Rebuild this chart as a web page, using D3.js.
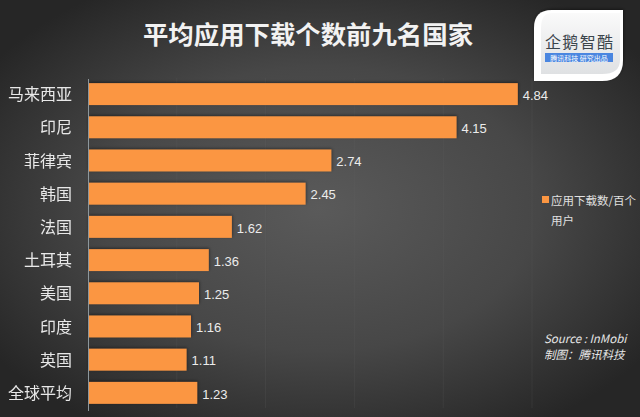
<!DOCTYPE html>
<html>
<head>
<meta charset="utf-8">
<script src="https://cdn.jsdelivr.net/npm/d3@7"></script>
<style>
html, body { margin: 0; padding: 0; background: #333; }
svg { display: block; }
text { font-family: "Noto Sans CJK SC", sans-serif; }
</style>
</head>
<body>
<div id="chart"></div>
<script>
const countries = ['马来西亚', '印尼', '菲律宾', '韩国', '法国', '土耳其', '美国', '印度', '英国', '全球平均'];
const downloads = [4.84, 4.15, 2.74, 2.45, 1.62, 1.36, 1.25, 1.16, 1.11, 1.23];
const gridTicks = [0, 1, 2, 3, 4, 5];
const titleText = '平均应用下载个数前九名国家';
const legendLines = ['应用下载数/百个', '用户'];
const sourceLines = ['Source : InMobi', '制图：腾讯科技'];

const width = 640, height = 417;

const svg = d3.select('#chart').append('svg')
	.attr('width', width)
	.attr('height', height);

const defs = svg.append('defs');
const bg = defs.append('radialGradient').attr('id', 'bg')
	.attr('cx', '50%').attr('cy', '50%').attr('r', '62%');
bg.append('stop').attr('offset', '0%').attr('stop-color', '#5a5a5a');
bg.append('stop').attr('offset', '55%').attr('stop-color', '#474747');
bg.append('stop').attr('offset', '100%').attr('stop-color', '#262626');

const logoFill = defs.append('linearGradient').attr('id', 'logoFill')
	.attr('x1', 0).attr('y1', 0).attr('x2', 0).attr('y2', 1);
logoFill.append('stop').attr('offset', '0%').attr('stop-color', '#fafafa');
logoFill.append('stop').attr('offset', '100%').attr('stop-color', '#dfe1e3');

const blur = defs.append('filter').attr('id', 'soft');
blur.append('feGaussianBlur').attr('stdDeviation', 0.35);

const shadow = defs.append('filter').attr('id', 'shadow')
	.attr('x', '-10%').attr('y', '-10%').attr('width', '125%').attr('height', '125%');
shadow.append('feDropShadow')
	.attr('dx', 0.5).attr('dy', -1).attr('stdDeviation', 1.5)
	.attr('flood-color', '#000').attr('flood-opacity', 0.45);

svg.append('rect').attr('width', width).attr('height', height).attr('fill', 'url(#bg)');

const x = d3.scaleLinear().domain([0, 5]).range([88, 532]);
const y = d3.scaleBand().domain(countries).range([77.5, 409.5]).paddingInner(0.34).paddingOuter(0.17);

// faint vertical gridlines
svg.append('g').selectAll('line').data(gridTicks.slice(1)).join('line')
	.attr('x1', d => x(d)).attr('x2', d => x(d))
	.attr('y1', 78).attr('y2', 408)
	.attr('stroke', '#6a6a6a').attr('stroke-opacity', 0.18);

// bars
svg.append('g').attr('filter', 'url(#shadow)').selectAll('rect').data(countries).join('rect')
	.attr('x', x(0))
	.attr('y', d => y(d))
	.attr('width', (d, i) => x(downloads[i]) - x(0))
	.attr('height', y.bandwidth())
	.attr('fill', '#fb9642');

// category axis
const yAxis = d3.axisLeft(y).tickSize(0).tickPadding(16);
const axisG = svg.append('g').attr('transform', `translate(${x(0)},1)`).call(yAxis);
axisG.select('.domain').attr('stroke', '#8d979c').attr('stroke-width', 1);
axisG.selectAll('text')
	.attr('fill', '#e8e8e8')
	.attr('font-size', 16)
	.attr('filter', 'url(#soft)');

// value labels
svg.append('g').selectAll('text').data(countries).join('text')
	.attr('x', (d, i) => x(downloads[i]) + 5)
	.attr('y', d => y(d) + y.bandwidth() / 2 + 1)
	.attr('dy', '0.36em')
	.attr('fill', '#ececec')
	.attr('font-size', 13)
	.style('font-family', 'Liberation Sans')
	.text((d, i) => downloads[i].toFixed(2));

// title
svg.append('text')
	.attr('x', 308).attr('y', 44)
	.attr('text-anchor', 'middle')
	.attr('fill', '#f2f2f2')
	.attr('font-size', 25.4)
	.attr('font-weight', 700)
	.text(titleText);

// legend
svg.append('rect').attr('x', 542).attr('y', 196).attr('width', 7).attr('height', 7).attr('fill', '#fb9642');
svg.append('g').selectAll('text').data(legendLines).join('text')
	.attr('x', 551)
	.attr('y', (d, i) => 204.5 + i * 20)
	.attr('fill', '#e0e0e0')
	.attr('font-size', 11.5)
	.text(d => d);

// source note
svg.append('g').selectAll('text').data(sourceLines).join('text')
	.attr('x', 544)
	.attr('y', (d, i) => 343 + i * 16)
	.attr('fill', '#e6e6e6')
	.attr('font-size', 11.5)
	.attr('font-style', 'italic')
	.text(d => d);

// logo badge
const logo = svg.append('g').attr('transform', 'translate(534,10)');
logo.append('path')
	.attr('d', 'M18,0 H89 V50 Q89,71 68,71 H0 V18 Q0,0 18,0 Z')
	.attr('fill', '#ffffff')
	.attr('filter', 'url(#shadow)');
logo.append('path')
	.attr('d', 'M18,3 H86 V50 Q86,64 68,64 H7 V18 Q7,3 18,3 Z')
	.attr('fill', 'url(#logoFill)');
logo.append('text')
	.attr('x', 45).attr('y', 37.5)
	.attr('text-anchor', 'middle')
	.attr('fill', '#3b444b')
	.attr('font-size', 16)
	.attr('textLength', 68)
	.text('企鹅智酷');
logo.append('rect').attr('x', 11).attr('y', 43).attr('width', 68).attr('height', 9).attr('fill', '#4a86e0');
logo.append('text')
	.attr('x', 45).attr('y', 50.5)
	.attr('text-anchor', 'middle')
	.attr('fill', '#ffffff')
	.attr('font-size', 7)
	.text('腾讯科技 研究出品');
</script>
</body>
</html>
